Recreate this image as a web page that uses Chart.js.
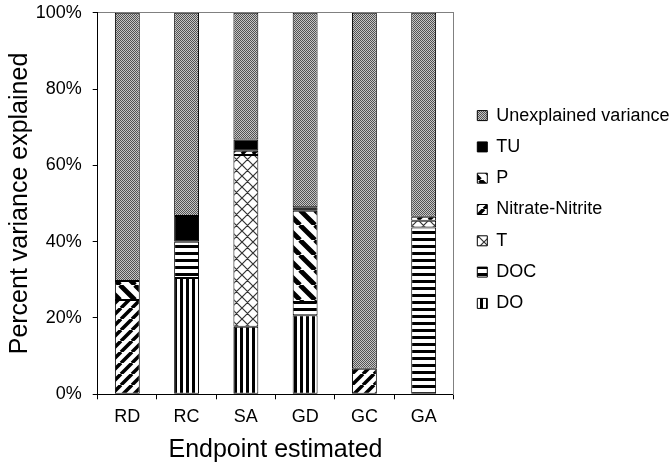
<!DOCTYPE html>
<html>
<head>
<meta charset="utf-8">
<script src="https://cdn.jsdelivr.net/npm/chart.js@4/dist/chart.umd.min.js"></script>
<style>
    html, body { margin: 0; padding: 0; background: #fff; }
    #wrap { width: 671px; height: 463px; }
</style>
</head>
<body>
<div id="wrap"><canvas id="varianceChart"></canvas></div>
<script>
const categories = ["RD", "RC", "SA", "GD", "GC", "GA"];
// percent of variance explained by each predictor
const doValues = [null, 30.5, 17.7, 20.7, null, null];
const docValues = [null, 9.5, null, 3.5, null, 43.7];
const tValues = [null, null, 45.0, null, null, 1.8];
const nitrateValues = [24.7, null, 1.1, null, 6.7, 1.0];
const pValues = [5.0, null, null, 23.9, null, null];
const tuValues = [null, 6.7, 3.0, 0.9, null, null];
const unexplainedValues = [70.3, 53.3, 33.2, 51.0, 93.3, 53.5];
const yTicks = [0, 20, 40, 60, 80, 100];

const FONT = "'Liberation Sans', Arial, sans-serif";

function makePattern(w, h, draw) {
    const c = document.createElement("canvas");
    c.width = w;
    c.height = h;
    const g = c.getContext("2d");
    g.fillStyle = "#fff";
    g.fillRect(0, 0, w, h);
    draw(g, w, h);
    return g.createPattern(c, "repeat");
}

// vertical stripes
const doPattern = makePattern(6, 6, (g) => {
    g.fillStyle = "#000";
    g.fillRect(0, 0, 3, 6);
});
// horizontal stripes
const docPattern = makePattern(7, 7, (g) => {
    g.fillStyle = "#000";
    g.fillRect(0, 0, 7, 3);
});
// thin diagonal crosshatch
const tPattern = makePattern(11, 11, (g, w, h) => {
    g.strokeStyle = "#333";
    g.lineWidth = 1.2;
    g.beginPath();
    for (let o = -w; o <= w; o += w) {
        g.moveTo(o, h); g.lineTo(o + w, 0);
        g.moveTo(o, 0); g.lineTo(o + w, h);
    }
    g.stroke();
});
// wide upward diagonal
const nitratePattern = makePattern(11, 11, (g, w, h) => {
    g.strokeStyle = "#000";
    g.lineWidth = 3.6;
    g.beginPath();
    for (let o = -w; o <= w; o += w) {
        g.moveTo(o, h); g.lineTo(o + w, 0);
    }
    g.stroke();
});
// wide downward diagonal
const pPattern = makePattern(15, 15, (g, w, h) => {
    g.strokeStyle = "#000";
    g.lineWidth = 4.8;
    g.beginPath();
    for (let o = -w; o <= w; o += w) {
        g.moveTo(o, 0); g.lineTo(o + w, h);
    }
    g.stroke();
});
// fine grey dither
const unexplainedPattern = makePattern(2, 2, (g) => {
    g.fillStyle = "#c6c6c6";
    g.fillRect(0, 0, 2, 2);
    g.fillStyle = "#525252";
    g.fillRect(0, 0, 1, 1);
    g.fillRect(1, 1, 1, 1);
});

function series(label, data, bg) {
    return {
        label: label,
        data: data,
        backgroundColor: bg,
        borderColor: "#000",
        borderWidth: 1,
        borderSkipped: false,
        categoryPercentage: 1,
        barPercentage: 0.42,
    };
}

new Chart(document.getElementById("varianceChart"), {
    type: "bar",
    data: {
        labels: categories,
        datasets: [
            series("DO", doValues, doPattern),
            series("DOC", docValues, docPattern),
            series("T", tValues, tPattern),
            series("Nitrate-Nitrite", nitrateValues, nitratePattern),
            series("P", pValues, pPattern),
            series("TU", tuValues, "#000"),
            series("Unexplained variance", unexplainedValues, unexplainedPattern),
        ],
    },
    options: {
        responsive: true,
        maintainAspectRatio: false,
        animation: false,
        layout: { padding: 0 },
        plugins: {
            tooltip: { enabled: false },
            legend: {
                position: "right",
                fullSize: false,
                reverse: true,
                maxWidth: 207,
                // empty title only nudges the key down a little
                title: { display: true, text: "", padding: 0, font: { size: 10, lineHeight: 1.2 } },
                labels: {
                    boxWidth: 10,
                    boxHeight: 10,
                    padding: 13.3,
                    color: "#000",
                    font: { family: FONT, size: 18 },
                },
            },
        },
        scales: {
            x: {
                stacked: true,
                afterFit: (s) => { s.height = 68.7; },
                border: { color: "#000", width: 1 },
                grid: { drawOnChartArea: false, tickLength: 5, color: "#000" },
                ticks: { color: "#000", padding: 7, font: { family: FONT, size: 18 } },
                title: {
                    display: true,
                    text: "Endpoint estimated",
                    color: "#000",
                    padding: { top: 0, bottom: 0 },
                    font: { family: FONT, size: 25, lineHeight: 1.05 },
                },
            },
            x2: {
                position: "top",
                type: "linear",
                min: 0,
                max: 1,
                afterFit: (s) => { s.height = 12.7; },
                border: { color: "#808080", width: 1 },
                grid: { display: false },
                ticks: { display: false },
            },
            y: {
                stacked: true,
                min: 0,
                max: 100,
                afterFit: (s) => { s.width = 97.7; },
                afterBuildTicks: (s) => { s.ticks = yTicks.map((v) => ({ value: v })); },
                border: { color: "#000", width: 1 },
                grid: { drawOnChartArea: false, tickLength: 5, color: "#000" },
                ticks: {
                    color: "#000",
                    padding: 11,
                    font: { family: FONT, size: 18, lineHeight: 0.1 },
                    callback: (v) => v + "%",
                },
                title: {
                    display: true,
                    text: "Percent variance explained",
                    color: "#000",
                    padding: { top: 5, bottom: 0 },
                    font: { family: FONT, size: 25, lineHeight: 1.2 },
                },
            },
            y2: {
                position: "right",
                type: "linear",
                min: 0,
                max: 1,
                afterFit: (s) => { s.width = 10.7; },
                border: { color: "#808080", width: 1 },
                grid: { display: false },
                ticks: { display: false },
            },
        },
    },
});
</script>
</body>
</html>
